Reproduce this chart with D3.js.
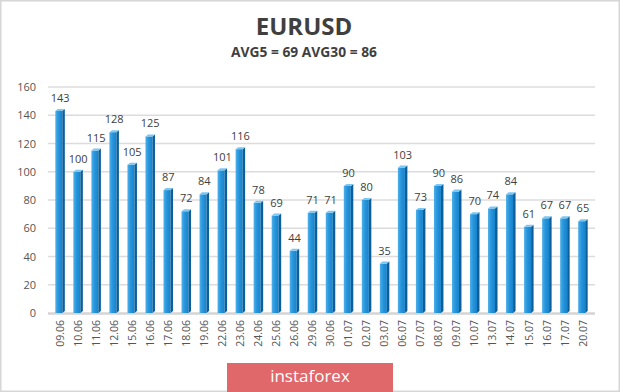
<!DOCTYPE html>
<html>
<head>
<meta charset="utf-8">
<script src="https://cdn.jsdelivr.net/npm/d3@7"></script>
<style>
  body { margin: 0; background: #fff; }
  svg text { font-family: "Open Sans", "DejaVu Sans", sans-serif; }
</style>
</head>
<body>
<div id="chart"></div>
<script>
// data
const dates = ['09.06','10.06','11.06','12.06','15.06','16.06','17.06','18.06','19.06','22.06',
  '23.06','24.06','25.06','26.06','29.06','30.06','01.07','02.07','03.07','06.07',
  '07.07','08.07','09.07','10.07','13.07','14.07','15.07','16.07','17.07','20.07']
const values = [143,100,115,128,105,125,87,72,84,101,116,78,69,44,71,71,90,80,35,103,
  73,90,86,70,74,84,61,67,67,65]
const yTicks = [0,20,40,60,80,100,120,140,160]
const title = 'EURUSD'
const subtitle = 'AVG5 = 69 AVG30 = 86'

var width = 620, height = 392
var margin = {left: 48, right: 25, top: 87, bottom: 79}

var svg = d3.select('#chart').append('svg')
    .attr('width', width)
    .attr('height', height)

// gradients for the 3d bars
var defs = svg.append('defs')
var gFront = defs.append('linearGradient').attr('id', 'front')
    .attr('x1', 0).attr('x2', 1).attr('y1', 0).attr('y2', 0)
gFront.append('stop').attr('offset', '0%').attr('stop-color', '#4fb0ea')
gFront.append('stop').attr('offset', '45%').attr('stop-color', '#2795dc')
gFront.append('stop').attr('offset', '100%').attr('stop-color', '#1682cc')

// frame
svg.append('rect')
    .attr('x', 0.75).attr('y', 0.75)
    .attr('width', width - 1.5).attr('height', height - 1.5)
    .attr('fill', 'none').attr('stroke', '#d6d6d6').attr('stroke-width', 1.5)

var x = d3.scaleBand()
    .domain(dates)
    .range([margin.left, width - margin.right])
    .paddingInner(0.34).paddingOuter(0.34)
var y = d3.scaleLinear()
    .domain([0, 160])
    .range([height - margin.bottom, margin.top])

// grid
svg.append('g').selectAll('line')
    .data(yTicks.slice(1))
    .enter().append('line')
    .attr('x1', margin.left).attr('x2', width - margin.right)
    .attr('y1', d => y(d)).attr('y2', d => y(d))
    .attr('stroke', '#dcdcdc').attr('stroke-width', 1.3)
// floor
svg.append('line')
    .attr('x1', margin.left).attr('x2', width - margin.right)
    .attr('y1', y(0) + 0.5).attr('y2', y(0) + 0.5)
    .attr('stroke', '#d4d4d4').attr('stroke-width', 2.5)

// y axis
var yAxis = d3.axisLeft(y).tickValues(yTicks).tickSize(0).tickPadding(0)
var ya = svg.append('g')
    .attr('transform', `translate(${margin.left - 12},0)`)
    .call(yAxis)
ya.select('.domain').remove()
ya.selectAll('text').attr('font-size', 11).attr('fill', '#555')

// x axis
var xAxis = d3.axisBottom(x).tickSize(0).tickPadding(0)
var xa = svg.append('g')
    .attr('transform', `translate(0,${y(0) + 7})`)
    .call(xAxis)
xa.select('.domain').remove()
xa.selectAll('text')
    .attr('font-size', 10.5).attr('fill', '#555')
    .attr('text-anchor', 'end')
    .attr('dy', '0.35em')
    .attr('transform', 'rotate(-90)')
    .attr('y', 0).attr('x', 0)

// bars
var bw = 7, side = 2.5, depth = 2
var bars = svg.append('g').selectAll('g')
    .data(values)
    .enter().append('g')
    .attr('transform', (d, i) => `translate(${x(dates[i]) + x.bandwidth() / 2 - (bw + side) / 2},0)`)

bars.append('rect')
    .attr('x', 0)
    .attr('y', d => y(d))
    .attr('width', bw)
    .attr('height', d => y(0) - y(d))
    .attr('fill', 'url(#front)')
bars.append('path')
    .attr('d', d => `M${bw},${y(d)} L${bw + side},${y(d) - depth} L${bw + side},${y(0) - depth} L${bw},${y(0)} Z`)
    .attr('fill', '#0c5f98')
bars.append('path')
    .attr('d', d => `M0,${y(d)} L${side},${y(d) - depth} L${bw + side},${y(d) - depth} L${bw},${y(d)} Z`)
    .attr('fill', '#7cc6f2')

// value labels
bars.append('text')
    .attr('x', (bw + side) / 2)
    .attr('y', d => y(d) - 9)
    .attr('text-anchor', 'middle')
    .attr('font-size', 11)
    .attr('fill', '#404040')
    .text(d => d)

// titles
svg.append('text')
    .attr('x', 304).attr('y', 35)
    .attr('text-anchor', 'middle')
    .attr('font-size', 24).attr('font-weight', 'bold')
    .attr('fill', '#3f3f3f')
    .text(title)
svg.append('text')
    .attr('x', 304).attr('y', 57)
    .attr('text-anchor', 'middle')
    .attr('font-size', 13.8).attr('font-weight', 'bold')
    .attr('fill', '#3f3f3f')
    .text(subtitle)

// instaforex badge
svg.append('rect')
    .attr('x', 227).attr('y', 363)
    .attr('width', 166).attr('height', 29)
    .attr('fill', '#e0676a')
svg.append('text')
    .attr('x', 310).attr('y', 382)
    .attr('text-anchor', 'middle')
    .attr('font-size', 17)
    .attr('fill', '#fff')
    .text('instaforex')
</script>
</body>
</html>
